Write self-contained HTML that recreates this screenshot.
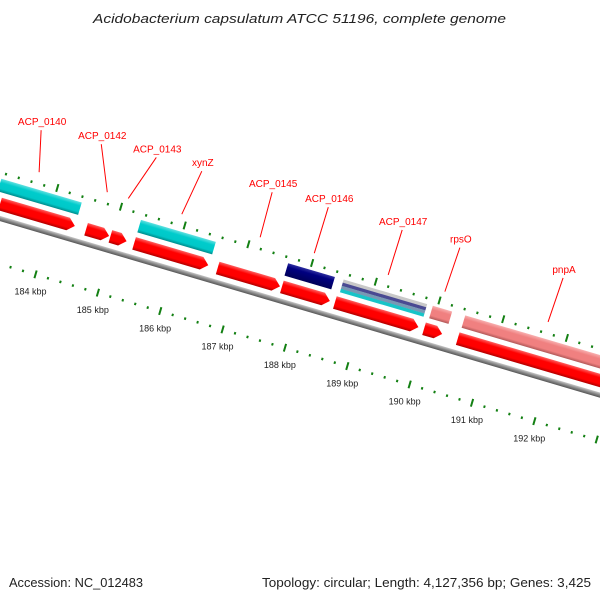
<!DOCTYPE html>
<html><head><meta charset="utf-8"><style>
body{margin:0;background:#fff}
svg{display:block;font-family:"Liberation Sans","DejaVu Sans",sans-serif}
</style></head><body>
<svg id="map" width="600" height="600" viewBox="0 0 600 600">
<defs>
<linearGradient id="gRed" x1="0" y1="0" x2="0" y2="1"><stop offset="0" stop-color="#ff6060"/><stop offset="0.3" stop-color="#ff0000"/><stop offset="0.75" stop-color="#ff0000"/><stop offset="1" stop-color="#b00000"/></linearGradient>
<linearGradient id="gCyan" x1="0" y1="0" x2="0" y2="1"><stop offset="0" stop-color="#60e0e0"/><stop offset="0.3" stop-color="#00cccc"/><stop offset="0.75" stop-color="#00c8c8"/><stop offset="1" stop-color="#008a8a"/></linearGradient>
<linearGradient id="gNavy" x1="0" y1="0" x2="0" y2="1"><stop offset="0" stop-color="#3030a0"/><stop offset="0.3" stop-color="#000080"/><stop offset="1" stop-color="#000058"/></linearGradient>
<linearGradient id="gPink" x1="0" y1="0" x2="0" y2="1"><stop offset="0" stop-color="#f8b0b0"/><stop offset="0.3" stop-color="#f08080"/><stop offset="0.75" stop-color="#f08080"/><stop offset="1" stop-color="#b05858"/></linearGradient>
<linearGradient id="gGray" x1="0" y1="0" x2="0" y2="1"><stop offset="0" stop-color="#c8c8c8"/><stop offset="0.5" stop-color="#888"/><stop offset="1" stop-color="#555"/></linearGradient>
</defs>
<text x="93" y="23" font-size="13" font-style="italic" fill="#222" textLength="413" lengthAdjust="spacingAndGlyphs">Acidobacterium capsulatum ATCC 51196, complete genome</text>
<g id="rot" transform="translate(0,218) rotate(16.4)"></g>
<g id="labels"></g>
<text x="9" y="587" font-size="13" fill="#222" textLength="134" lengthAdjust="spacingAndGlyphs">Accession: NC_012483</text>
<text x="262" y="587" font-size="13" fill="#222" textLength="329" lengthAdjust="spacingAndGlyphs">Topology: circular; Length: 4,127,356 bp; Genes: 3,425</text>
</svg>
<script>
const rulerKbp = [184,185,186,187,188,189,190,191,192];
const redStarts = [183.17,184.55,184.94,185.32,186.66,187.69,188.54,189.97,190.51];
const redEnds   = [184.37,184.92,185.20,186.51,187.66,188.46,189.88,190.26,194.0];
const topStarts = [183.08,185.32,187.68,188.57,190.0,190.52];
const topEnds   = [184.37,186.52,188.43,189.91,190.31,194.0];
const topTypes  = ['cyan','cyan','navy','multi','pink','pink'];
const geneLabels = ['ACP_0140','ACP_0142','ACP_0143','xynZ','ACP_0145','ACP_0146','ACP_0147','rpsO','pnpA'];
const labelKbp = [183.67,184.74,185.07,185.91,187.14,187.99,189.15,190.04,191.66];

// layout (not data): leader line direction per label
const leaderDx = [2,-6,28,20,12,14,14,15,15];
const leaderDy = [-42,-48,-41,-43,-45,-46,-45,-44,-44];

const NS='http://www.w3.org/2000/svg';
const TH=16.4*Math.PI/180, C=Math.cos(TH), S=Math.sin(TH);
function uLow(k){return 50+(k-184)*65;}
function uUp(k){return 46.5+(k-184)*66.4;}
function uFeat(k){return 50+(k-184)*65;}
function toXY(u,v){return [u*C - v*S, 218 + u*S + v*C];}
const rot=document.getElementById('rot'), lab=document.getElementById('labels');
function el(tag,attrs,parent){const e=document.createElementNS(NS,tag);for(const k in attrs)e.setAttribute(k,attrs[k]);parent.appendChild(e);return e;}

let bb=el('rect',{x:-50,y:-2,width:800,height:5,fill:'url(#gGray)'},rot);



for(let k=183.6;k<=193.6;k+=0.2){
  const kk=Math.round(k*10)/10; const u=uLow(kk);
  const major=Math.abs(kk-Math.round(kk))<0.01;
  let t=el('rect',major?{x:u-1,y:40,width:2,height:8,fill:'#138013'}:{x:u-1,y:43,width:2,height:2.5,fill:'#138013'},rot);
  
  
}
for(let k=183.2;k<=193.4;k+=0.2){
  const kk=Math.round(k*10)/10; const u=uUp(kk);
  const major=Math.abs(kk-Math.round(kk))<0.01;
  let t=el('rect',major?{x:u-1,y:-49,width:2,height:8,fill:'#138013'}:{x:u-1,y:-45,width:2,height:2.5,fill:'#138013'},rot);
  
  
}
rulerKbp.forEach(k=>{
  const [x,y]=toXY(uLow(k),62);
  let t=el('text',{x:x,y:y+3,'font-size':9,fill:'#222','text-anchor':'middle'},lab);
  t.textContent=k+' kbp';
  
  
});

redStarts.forEach((s,i)=>{
  const a=uFeat(s), b=uFeat(redEnds[i]), y0=-20, y1=-7, tip=Math.min(7,(b-a)/2);
  let p=el('polygon',{points:`${a},${y0} ${b-tip},${y0} ${b},${(y0+y1)/2} ${b-tip},${y1} ${a},${y1}`,fill:'url(#gRed)'},rot);
  
  
});
topStarts.forEach((s,i)=>{
  const a=uFeat(s), b=uFeat(topEnds[i]), y0=-38, h=13, t=topTypes[i];
  if(t==='multi'){
    const cols=['#c8c8c8','#4a4a92','#7898b4','#18c4c8'];
    cols.forEach((c,j)=>{
      let r=el('rect',{x:a,y:y0+j*h/4,width:b-a,height:h/4+0.2,fill:c},rot);
      
      
    });
  } else {
    const f={cyan:'url(#gCyan)',navy:'url(#gNavy)',pink:'url(#gPink)'}[t];
    let r=el('rect',{x:a,y:y0,width:b-a,height:h,fill:f},rot);
    
    
  }
});

geneLabels.forEach((name,i)=>{
  const [x1,y1]=toXY(uUp(labelKbp[i]),-55);
  const tx=x1+leaderDx[i], ty=y1+leaderDy[i];
  let l=el('line',{x1:x1,y1:y1,x2:tx,y2:ty,stroke:'#ff0000','stroke-width':1},lab);
  
  
  let t=el('text',{x:tx+1,y:ty-5,'font-size':10,fill:'#ff0000','text-anchor':'middle'},lab);
  t.textContent=name;
  
  
});
</script>
</body></html>
